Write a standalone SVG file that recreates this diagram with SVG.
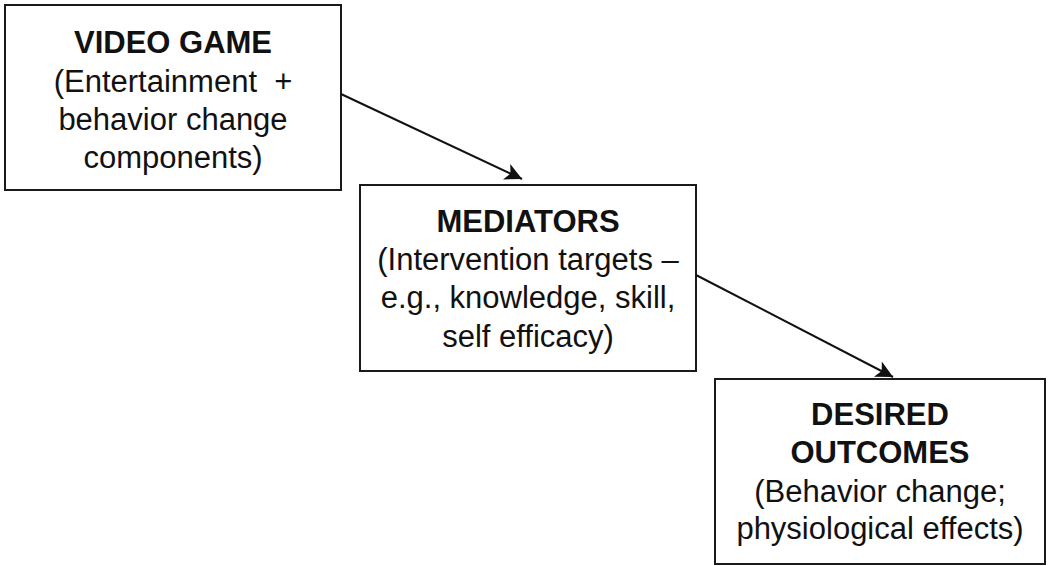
<svg xmlns="http://www.w3.org/2000/svg" width="1050" height="566" viewBox="0 0 1050 566">
<style>
.box{fill:#fff;stroke:#1a1a1a;stroke-width:2}
.t{font-family:"Liberation Sans",Arial,Helvetica,sans-serif;font-size:31px;fill:#111;text-anchor:middle}
.b{font-weight:bold}
.c{stroke:#111;stroke-width:2;fill:none;marker-end:url(#ah)}
</style>
<defs>
<marker id="ah" viewBox="0 0 10 10" refX="10" refY="5" markerWidth="9" markerHeight="9" markerUnits="userSpaceOnUse" orient="auto" overflow="visible">
<path d="M0,0 L10,5 L0,10 L2.5,5 Z" fill="#111" transform="scale(1.9) translate(-4.7,-2.4)"/>
</marker>
</defs>
<rect width="1050" height="566" fill="#fff"/>
<g id="node-video-game">
<rect class="box" x="5" y="5" width="336" height="185"/>
<text class="t b" x="173" y="53">VIDEO GAME</text>
<text class="t" x="173" y="92" xml:space="preserve">(Entertainment  +</text>
<text class="t" x="173" y="130">behavior change</text>
<text class="t" x="173" y="168">components)</text>
</g>
<g id="node-mediators">
<rect class="box" x="360" y="185" width="336" height="186"/>
<text class="t b" x="528" y="232">MEDIATORS</text>
<text class="t" x="528" y="270">(Intervention targets –</text>
<text class="t" x="528" y="308">e.g., knowledge, skill,</text>
<text class="t" x="528" y="347">self efficacy)</text>
</g>
<g id="node-outcomes">
<rect class="box" x="715" y="379" width="330" height="185"/>
<text class="t b" x="880" y="425">DESIRED</text>
<text class="t b" x="880" y="463">OUTCOMES</text>
<text class="t" x="880" y="502">(Behavior change;</text>
<text class="t" x="880" y="539">physiological effects)</text>
</g>
<g id="connectors">
<line class="c" x1="341" y1="94" x2="522" y2="179"/>
<line class="c" x1="696" y1="275" x2="893" y2="377"/>
</g>
</svg>
